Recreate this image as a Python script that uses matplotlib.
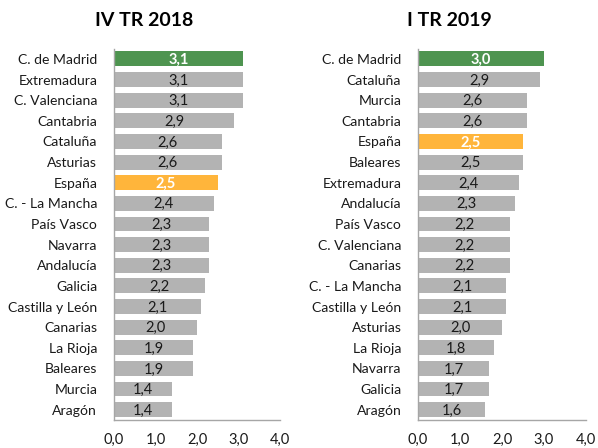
import matplotlib
matplotlib.use("Agg")
import matplotlib.pyplot as plt

plt.rcParams['font.family'] = ['Lato', 'DejaVu Sans']

cats_2018 = ["C. de Madrid", "Extremadura", "C. Valenciana", "Cantabria", "Cataluña", "Asturias",
             "España", "C. - La Mancha", "País Vasco", "Navarra", "Andalucía", "Galicia",
             "Castilla y León", "Canarias", "La Rioja", "Baleares", "Murcia", "Aragón"]
vals_2018 = [3.1, 3.1, 3.1, 2.9, 2.6, 2.6, 2.5, 2.4, 2.3, 2.3, 2.3, 2.2, 2.1, 2.0, 1.9, 1.9, 1.4, 1.4]

cats_2019 = ["C. de Madrid", "Cataluña", "Murcia", "Cantabria", "España", "Baleares",
             "Extremadura", "Andalucía", "País Vasco", "C. Valenciana", "Canarias",
             "C. - La Mancha", "Castilla y León", "Asturias", "La Rioja", "Navarra", "Galicia", "Aragón"]
vals_2019 = [3.0, 2.9, 2.6, 2.6, 2.5, 2.5, 2.4, 2.3, 2.2, 2.2, 2.2, 2.1, 2.1, 2.0, 1.8, 1.7, 1.7, 1.6]

titles = ["IV TR 2018", "I TR 2019"]
xticks = [0.0, 1.0, 2.0, 3.0, 4.0]
xtick_labels = ["0,0", "1,0", "2,0", "3,0", "4,0"]

GREEN = "#4E9450"
ORANGE = "#FFB53B"
GRAY = "#B3B3B3"
SPINE = "#A6A6A6"

fig = plt.figure(figsize=(5.98, 4.48), dpi=100)
axes_pos = [[0.1906, 0.0625, 0.2776, 0.829], [0.699, 0.0625, 0.281, 0.829]]
title_x = [144 / 598, 449 / 598]

for pos, cats, vals, title, tx in zip(axes_pos, [cats_2018, cats_2019], [vals_2018, vals_2019], titles, title_x):
    ax = fig.add_axes(pos)
    n = len(cats)
    ys = list(range(n))
    colors = []
    for c in cats:
        if c == "C. de Madrid":
            colors.append(GREEN)
        elif c == "España":
            colors.append(ORANGE)
        else:
            colors.append(GRAY)
    ax.barh(ys, vals, height=0.72, color=colors, edgecolor="none")
    ax.set_ylim(n - 0.5, -0.5)
    ax.set_xlim(0, 4.0)
    ax.set_yticks(ys)
    ax.set_yticklabels(cats, fontsize=10.1, color="#1a1a1a")
    ax.set_xticks(xticks)
    ax.set_xticklabels(xtick_labels, fontsize=10.5, color="#1a1a1a")
    ax.tick_params(axis='both', length=0)
    ax.tick_params(axis='x', pad=9)
    ax.tick_params(axis='y', pad=12)
    for s in ["top", "right"]:
        ax.spines[s].set_visible(False)
    for s in ["left", "bottom"]:
        ax.spines[s].set_color(SPINE)
        ax.spines[s].set_linewidth(1.0)
    for y, v, c in zip(ys, vals, cats):
        highlight = c in ("C. de Madrid", "España")
        ax.text(v / 2, y + 0.05, f"{v:.1f}".replace(".", ","), ha="center", va="center",
                fontsize=10.5, color="white" if highlight else "#1a1a1a",
                fontweight="bold" if highlight else "normal")
    fig.text(tx, 1 - 20 / 448, title, ha="center", va="center", fontsize=14, fontweight="bold")

fig.savefig("out.png", dpi=100)
